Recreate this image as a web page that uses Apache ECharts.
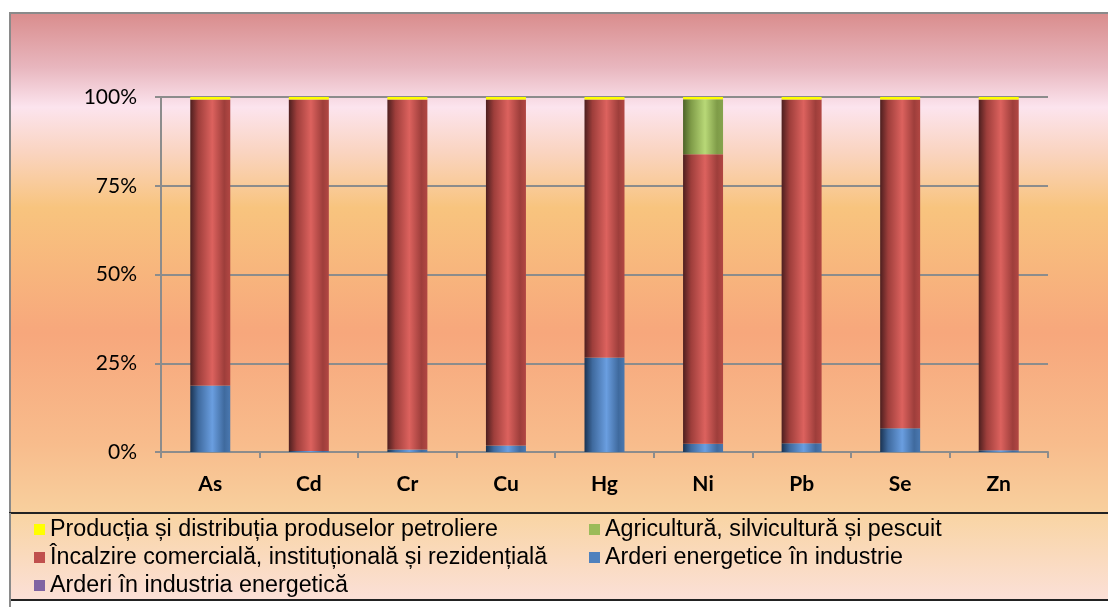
<!DOCTYPE html>
<html>
<head>
<meta charset="utf-8">
<script src="https://cdn.jsdelivr.net/npm/echarts@6/dist/echarts.min.js"></script>
<style>
html, body { margin: 0; padding: 0; background: #fff; }
#chart { width: 1108px; height: 607px; }
</style>
</head>
<body>
<div id="chart"></div>
<script>
// categorii (elemente)
const categories = ['As', 'Cd', 'Cr', 'Cu', 'Hg', 'Ni', 'Pb', 'Se', 'Zn']
// procente, de jos in sus
const arderiEnergetica = [0, 0, 0, 0, 0, 0, 0, 0, 0]
const arderiIndustrie = [18.7, 0.3, 0.7, 1.8, 26.6, 2.3, 2.5, 6.7, 0.5]
const agricultura = [0, 0, 0, 0, 0, 15.5, 0, 0, 0]
const productia = [0.7, 0.7, 0.7, 0.7, 0.7, 0.6, 0.7, 0.7, 0.7]
const incalzire = categories.map((c, i) =>
  +(100 - arderiEnergetica[i] - arderiIndustrie[i] - agricultura[i] - productia[i]).toFixed(1))
const yTicks = [0, 25, 50, 75, 100]

const names = {
  prod: 'Producția și distribuția produselor petroliere',
  agri: 'Agricultură, silvicultură și pescuit',
  inc: 'Încalzire comercială, instituțională și rezidențială',
  ind: 'Arderi energetice în industrie',
  ene: 'Arderi în industria energetică'
}

// gradient orizontal pentru efect de cilindru
function cyl (dark, mid, light, right) {
  return new echarts.graphic.LinearGradient(0, 0, 1, 0, [
    { offset: 0, color: dark },
    { offset: 0.2, color: mid },
    { offset: 0.55, color: light },
    { offset: 0.85, color: mid },
    { offset: 1, color: right }
  ])
}

let myChart = echarts.init(document.getElementById('chart'))

const legendText = { fontFamily: 'Liberation Sans, Arial', fontSize: 23.3, color: '#000', lineHeight: 23 }

myChart.setOption({
  backgroundColor: '#fff',
  animation: false,
  graphic: [
    {
      type: 'rect', z: -10, silent: true,
      shape: { x: 10, y: 13, width: 1110, height: 500 },
      style: {
        fill: new echarts.graphic.LinearGradient(0, 0, 0, 1, [
          { offset: 0, color: '#d98c8c' },
          { offset: 0.11, color: '#e8b6be' },
          { offset: 0.19, color: '#fce4ee' },
          { offset: 0.28, color: '#fad4c0' },
          { offset: 0.39, color: '#f8c47e' },
          { offset: 0.64, color: '#f7a77c' },
          { offset: 0.86, color: '#f8bc8c' },
          { offset: 1, color: '#f8d09e' }
        ]),
        stroke: '#8a8a8a', lineWidth: 2
      }
    },
    {
      type: 'rect', z: -9, silent: true,
      shape: { x: 10, y: 513, width: 1110, height: 87 },
      style: {
        fill: new echarts.graphic.LinearGradient(0, 0, 0, 1, [
          { offset: 0, color: '#f9d4a2' },
          { offset: 1, color: '#fbe0d8' }
        ]),
        stroke: '#222', lineWidth: 2
      }
    },
    {
      type: 'line', z: -8, silent: true,
      shape: { x1: 10, y1: 513, x2: 10, y2: 607 },
      style: { stroke: '#8a8a8a', lineWidth: 2 }
    }
  ],
  legend: [
    {
      orient: 'vertical', left: 34, top: 518, padding: 0,
      itemWidth: 11, itemHeight: 11, itemGap: 5, icon: 'rect',
      selectedMode: false, textStyle: legendText,
      data: [
        { name: names.prod, itemStyle: { color: '#ffff00' } },
        { name: names.inc, itemStyle: { color: '#c0504d' } },
        { name: names.ene, itemStyle: { color: '#8064a2' } }
      ]
    },
    {
      orient: 'vertical', left: 589, top: 518, padding: 0,
      itemWidth: 11, itemHeight: 11, itemGap: 5, icon: 'rect',
      selectedMode: false, textStyle: legendText,
      data: [
        { name: names.agri, itemStyle: { color: '#9bbb59' } },
        { name: names.ind, itemStyle: { color: '#4f81bd' } }
      ]
    }
  ],
  grid: { left: 161, right: 60, top: 97, bottom: 155 },
  xAxis: {
    type: 'category',
    data: categories,
    axisLine: { lineStyle: { color: '#8c8c8c', width: 2 } },
    axisTick: { show: true, length: 6, lineStyle: { color: '#8c8c8c', width: 2 } },
    axisLabel: { margin: 22, color: '#000', fontFamily: 'Lato', fontWeight: 'bold', fontSize: 21 }
  },
  yAxis: {
    type: 'value',
    min: yTicks[0],
    max: yTicks[yTicks.length - 1],
    interval: 25,
    axisLine: { show: true, lineStyle: { color: '#8c8c8c', width: 2 } },
    axisTick: { show: true, length: 6, lineStyle: { color: '#8c8c8c', width: 2 } },
    splitLine: { show: true, lineStyle: { color: '#8c8c8c', width: 2 } },
    axisLabel: { margin: 24, color: '#000', fontFamily: 'Lato', fontSize: 21, formatter: '{value}%' }
  },
  series: [
    {
      name: names.ene, type: 'bar', stack: 'total', barWidth: 40, data: arderiEnergetica,
      itemStyle: { color: cyl('#3a2a52', '#6a5290', '#9a80c0', '#70589a') }
    },
    {
      name: names.ind, type: 'bar', stack: 'total', barWidth: 40, data: arderiIndustrie,
      itemStyle: { color: cyl('#1a3352', '#3f6a9e', '#6a9ee0', '#4a78b0') }
    },
    {
      name: names.inc, type: 'bar', stack: 'total', barWidth: 40, data: incalzire,
      itemStyle: { color: cyl('#4d1f1f', '#9e3e3b', '#dc625e', '#b24743') }
    },
    {
      name: names.agri, type: 'bar', stack: 'total', barWidth: 40, data: agricultura,
      itemStyle: { color: cyl('#4d6328', '#7f9c48', '#b8d877', '#86a44e') }
    },
    {
      name: names.prod, type: 'bar', stack: 'total', barWidth: 40, data: productia,
      itemStyle: { color: '#ffff00' }
    }
  ]
})
</script>
</body>
</html>
